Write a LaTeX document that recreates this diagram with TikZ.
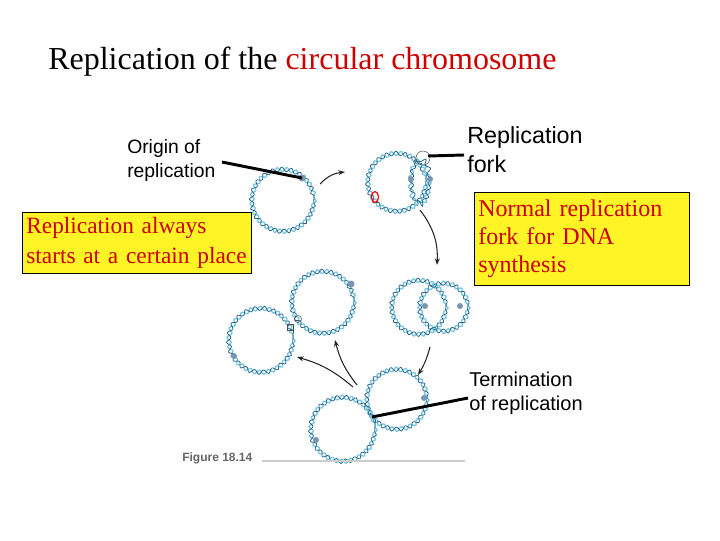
\documentclass[tikz,border=0pt]{standalone}
\usepackage{fontspec}
\setmainfont{Liberation Serif}
\setsansfont{Liberation Sans}
\usetikzlibrary{decorations.pathmorphing,arrows.meta}
\definecolor{dnal}{RGB}{120,200,225}
\definecolor{dnad}{RGB}{40,100,140}
\definecolor{blobc}{RGB}{120,150,175}
\begin{document}
\begin{tikzpicture}[x=0.75pt,y=-0.75pt,
  dnaA/.style={draw=dnal,line width=1pt,decorate,decoration={snake,amplitude=1.6pt,segment length=7pt}},
  dnaB/.style={draw=dnad,line width=0.6pt,decorate,decoration={snake,amplitude=1.6pt,segment length=7pt,pre length=3.5pt}},
  arr/.style={-{Stealth[length=5pt]},line width=0.8pt,black!85},
  ptr/.style={line width=2.2pt,black},
  ybox/.style={draw=black,fill=yellow!85!white,line width=0.5pt,inner sep=3pt,align=left,anchor=north west},
  blob/.style={fill=blobc,draw=none},
  lbl/.style={font=\sffamily,align=left,anchor=north west,inner sep=0pt}]
\useasboundingbox (0,0) rectangle (720,540);
\newcommand{\dnacirc}[3]{\path[dnaA] (#1,#2) circle (#3); \path[dnaB] (#1,#2) circle (#3);}
\node[anchor=west,inner sep=0pt,font=\fontsize{24}{26}\selectfont] (title) at (48,62) {Replication of the \textcolor{red!80!black}{circular chromosome}};
% circles
\dnacirc{283}{198}{31}
\fill[blob] (302,178) circle (3.5);
\dnacirc{397}{180}{29}
\path[dnaA] (420,180) ellipse (9 and 22); \path[dnaB] (420,180) ellipse (9 and 22);
\fill[blob] (411,179) circle (3); \fill[blob] (430,179) circle (3);
\draw[black!70,line width=0.4pt] (423,158) circle (7);
\draw[red,line width=0.9pt] (375,197) ellipse (3.5 and 5.5);
\dnacirc{419}{305}{27}
\dnacirc{444}{305}{24}
\fill[blob] (425,306) circle (3); \fill[blob] (460,306) circle (3);
\dnacirc{323}{300}{31}
\fill[blob] (351,284) circle (3.5);
\draw[black!70,line width=0.4pt] (298,319) circle (3.5);
\dnacirc{261}{338}{32}
\fill[blob] (234,356) circle (3);
\draw[black!70,line width=0.4pt] (287,324) rectangle +(6,6);
\dnacirc{343}{427}{32}
\fill[blob] (316,440) circle (3);
\dnacirc{397}{397}{30}
\fill[blob] (424,398) circle (3);
% arrows
\coordinate (a1s) at (320,184); \coordinate (a1e) at (345,172);
\draw[arr] (a1s) to[bend left=20] (a1e);
\coordinate (a2s) at (420,210); \coordinate (a2e) at (437,265);
\draw[arr] (a2s) to[bend left=20] (a2e);
\coordinate (a3s) at (430,347); \coordinate (a3e) at (418,375);
\draw[arr] (a3s) to[bend left=8] (a3e);
\coordinate (a4s) at (357,385); \coordinate (a4e) at (335,340);
\draw[arr] (a4s) to[bend left=12] (a4e);
\coordinate (a5s) at (353,387); \coordinate (a5e) at (297,357);
\draw[arr] (a5s) to[bend right=12] (a5e);
% labels
\node[lbl,font=\sffamily\fontsize{14.5}{18}\selectfont] (orig) at (127,139) {Origin of\\replication};
\coordinate (origP) at (302,178);
\draw[ptr] (222,162) -- (origP);
\node[lbl,font=\sffamily\fontsize{17.5}{22}\selectfont] (fork) at (467,126) {Replication\\fork};
\coordinate (forkP) at (428,156);
\draw[ptr] (464,155) -- (forkP);
\node[lbl,font=\sffamily\fontsize{15}{18}\selectfont] (term) at (469,372) {Termination\\of replication};
\coordinate (termP) at (372,417);
\draw[ptr] (468,398) -- (termP);
\node[ybox,text width=166pt,minimum height=46pt,text=red!80!black,font=\fontsize{17.5}{22}\selectfont] (box1) at (22,212) {Replication always\\starts at a certain place};
\node[ybox,text width=155pt,minimum height=70pt,text=red!80!black,font=\fontsize{18}{21}\selectfont] (box2) at (474,192) {Normal replication\\fork for DNA\\synthesis};
\node[anchor=south west,font=\sffamily\bfseries\fontsize{9}{10}\selectfont,text=gray!80!black,inner sep=0] (fig) at (182,464) {Figure 18.14};
\draw[gray!40,line width=0.8pt] (262,461) -- (465,461);
\end{tikzpicture}
\end{document}
